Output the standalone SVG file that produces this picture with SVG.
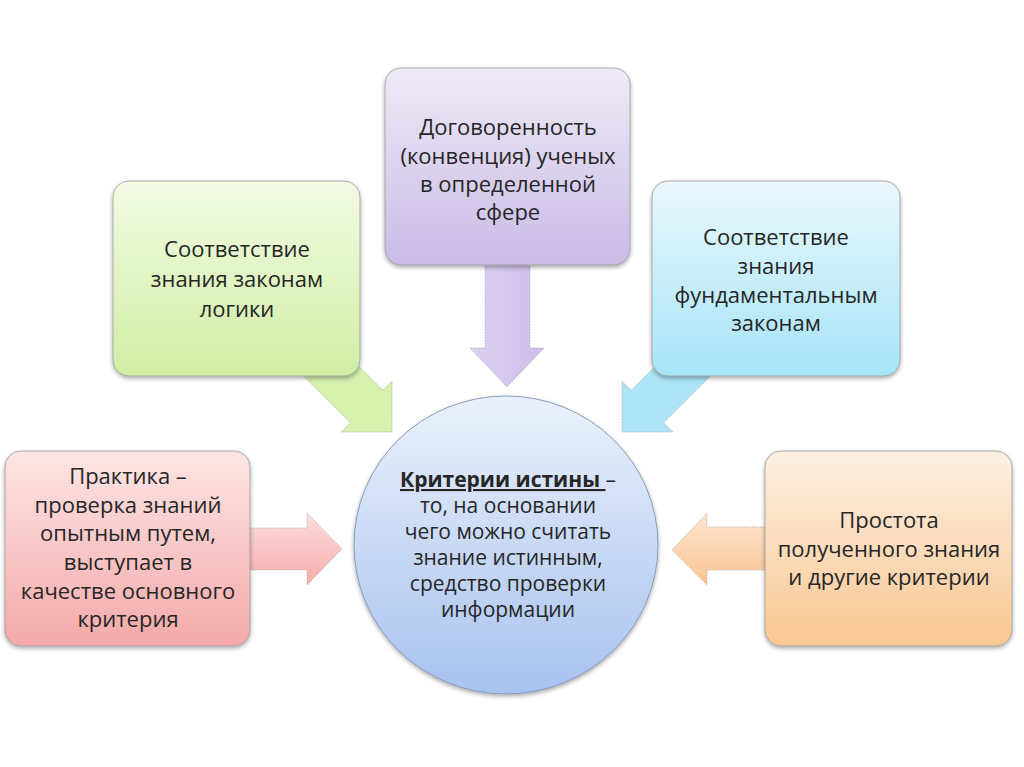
<svg xmlns="http://www.w3.org/2000/svg" width="1024" height="767" viewBox="0 0 1024 767">
  <defs>
    <linearGradient id="gGreen" x1="0" y1="0" x2="0" y2="1">
      <stop offset="0" stop-color="#f3fbe4"/>
      <stop offset="1" stop-color="#d0eea4"/>
    </linearGradient>
    <linearGradient id="gPurple" x1="0" y1="0" x2="0" y2="1">
      <stop offset="0" stop-color="#efeaf7"/>
      <stop offset="1" stop-color="#c9bbe6"/>
    </linearGradient>
    <linearGradient id="gBlue" x1="0" y1="0" x2="0" y2="1">
      <stop offset="0" stop-color="#e9f8fd"/>
      <stop offset="1" stop-color="#a7e4f7"/>
    </linearGradient>
    <linearGradient id="gRed" x1="0" y1="0" x2="0" y2="1">
      <stop offset="0" stop-color="#fde5e5"/>
      <stop offset="1" stop-color="#f4a9a9"/>
    </linearGradient>
    <linearGradient id="gOrange" x1="0" y1="0" x2="0" y2="1">
      <stop offset="0" stop-color="#fdf0e2"/>
      <stop offset="1" stop-color="#f9c793"/>
    </linearGradient>
    <linearGradient id="gCircle" x1="0" y1="0" x2="0" y2="1">
      <stop offset="0" stop-color="#eaf1fb"/>
      <stop offset="1" stop-color="#a8c2ef"/>
    </linearGradient>
    <linearGradient id="aRed" x1="0" y1="0" x2="0" y2="1">
      <stop offset="0" stop-color="#fddcdc"/>
      <stop offset="1" stop-color="#f6adad"/>
    </linearGradient>
    <linearGradient id="aOrange" x1="0" y1="0" x2="0" y2="1">
      <stop offset="0" stop-color="#fde6d0"/>
      <stop offset="1" stop-color="#f9c591"/>
    </linearGradient>
    <linearGradient id="aPurple" x1="0" y1="0" x2="1" y2="0">
      <stop offset="0" stop-color="#ddd2f1"/>
      <stop offset="1" stop-color="#cdbdea"/>
    </linearGradient>
    <filter id="shadow" x="-10%" y="-10%" width="120%" height="125%">
      <feDropShadow dx="0" dy="2" stdDeviation="2" flood-color="#000" flood-opacity="0.35"/>
    </filter>
  </defs>
  <style>
    .box { stroke: #9a9a9a; stroke-width: 0.8; filter: url(#shadow); }
    .arrow { stroke: #a8a8a8; stroke-width: 0.7; stroke-dasharray: 1.5 1.2; }
    .t { font-family: "Open Sans", "Liberation Sans", sans-serif; font-size: 22px; fill: #262626; text-anchor: middle; }
    .c { font-family: "Open Sans", "Liberation Sans", sans-serif; font-size: 21px; fill: #262626; text-anchor: middle; }
  </style>
  <rect width="1024" height="767" fill="#ffffff"/>

  <g id="connectors">
    <polygon class="arrow" fill="url(#aPurple)" points="485,250 530,250 530,348 544,348 507,387 470,348 485,348"/>
    <polygon class="arrow" fill="#d5f1ad" transform="translate(392,432) rotate(45)" points="-130,-23 -36,-23 -36,-36 0,0 -36,36 -36,23 -130,23"/>
    <polygon class="arrow" fill="#ade5f7" transform="translate(622,432) rotate(135)" points="-130,-23 -36,-23 -36,-36 0,0 -36,36 -36,23 -130,23"/>
    <polygon class="arrow" fill="url(#aRed)" points="240,528 307,528 307,513 342,549 307,585 307,570 240,570"/>
    <polygon class="arrow" fill="url(#aOrange)" points="775,527 707,527 707,513 672,550 707,585 707,570 775,570"/>
  </g>

  <g id="node-logic">
    <rect class="box" x="113" y="181" width="247" height="195" rx="16" fill="url(#gGreen)"/>
    <text class="t" x="237" y="257">Соответствие</text>
    <text class="t" x="237" y="287">знания законам</text>
    <text class="t" x="237" y="317">логики</text>
  </g>

  <g id="node-convention">
    <rect class="box" x="385" y="68" width="245" height="197" rx="16" fill="url(#gPurple)"/>
    <text class="t" x="508" y="135">Договоренность</text>
    <text class="t" x="508" y="164">(конвенция) ученых</text>
    <text class="t" x="508" y="192">в определенной</text>
    <text class="t" x="508" y="220">сфере</text>
  </g>

  <g id="node-fundamental">
    <rect class="box" x="652" y="181" width="248" height="195" rx="16" fill="url(#gBlue)"/>
    <text class="t" x="776" y="245">Соответствие</text>
    <text class="t" x="776" y="274">знания</text>
    <text class="t" x="776" y="303">фундаментальным</text>
    <text class="t" x="776" y="331">законам</text>
  </g>

  <g id="node-practice">
    <rect class="box" x="5" y="451" width="245" height="195" rx="16" fill="url(#gRed)"/>
    <text class="t" x="128" y="484">Практика –</text>
    <text class="t" x="128" y="513">проверка знаний</text>
    <text class="t" x="128" y="541">опытным путем,</text>
    <text class="t" x="128" y="570">выступает в</text>
    <text class="t" x="128" y="599">качестве основного</text>
    <text class="t" x="128" y="627">критерия</text>
  </g>

  <g id="node-simplicity">
    <rect class="box" x="765" y="451" width="247" height="195" rx="16" fill="url(#gOrange)"/>
    <text class="t" x="889" y="528">Простота</text>
    <text class="t" x="889" y="557">полученного знания</text>
    <text class="t" x="889" y="585">и другие критерии</text>
  </g>

  <g id="node-center">
    <ellipse cx="506" cy="545" rx="152" ry="149" fill="url(#gCircle)" stroke="#7f93b8" stroke-width="0.9" filter="url(#shadow)"/>
    <text class="c" x="508" y="487"><tspan font-weight="bold" text-decoration="underline">Критерии истины </tspan>–</text>
    <text class="c" x="508" y="513">то, на основании</text>
    <text class="c" x="508" y="539">чего можно считать</text>
    <text class="c" x="508" y="565">знание истинным,</text>
    <text class="c" x="508" y="591">средство проверки</text>
    <text class="c" x="508" y="617">информации</text>
  </g>
</svg>
